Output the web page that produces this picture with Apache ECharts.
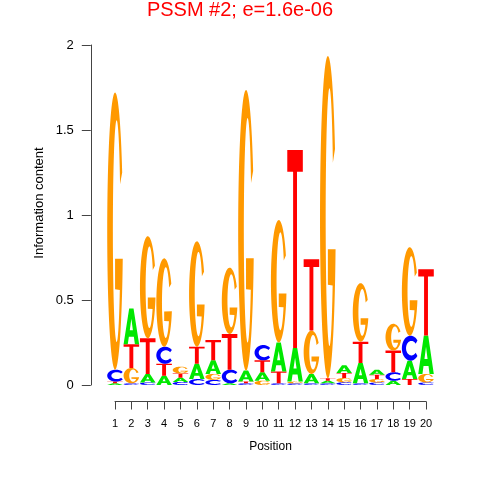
<!DOCTYPE html>
<html>
<head>
<meta charset="utf-8">
<title>PSSM #2 logo</title>
<script src="https://cdn.jsdelivr.net/npm/echarts@6/dist/echarts.min.js"></script>
<style>
  html, body { margin: 0; padding: 0; background: #fff; }
  #chart { width: 480px; height: 480px; }
</style>
</head>
<body>
<div id="chart"></div>
<script>
// information content (bits) of each base at positions 1..20
const positions = [1, 2, 3, 4, 5, 6, 7, 8, 9, 10, 11, 12, 13, 14, 15, 16, 17, 18, 19, 20]
const heightA = [0.01, 0.21, 0.05, 0.055, 0.024, 0.09, 0.08, 0.01, 0.065, 0.05, 0.17, 0.197, 0.055, 0.015, 0.045, 0.12, 0.03, 0.025, 0.108, 0.226]
const heightC = [0.07, 0.01, 0.015, 0.10, 0.018, 0.035, 0.03, 0.08, 0.01, 0.09, 0.01, 0.01, 0.01, 0.01, 0.016, 0.01, 0.015, 0.05, 0.147, 0.015]
const heightG = [1.63, 0.09, 0.60, 0.52, 0.04, 0.62, 0.035, 0.39, 1.65, 0.025, 0.72, 0.01, 0.255, 1.895, 0.025, 0.344, 0.02, 0.157, 0.52, 0.05]
const heightT = [0.01, 0.14, 0.21, 0.07, 0.026, 0.10, 0.12, 0.21, 0.01, 0.07, 0.07, 1.166, 0.42, 0.015, 0.03, 0.125, 0.025, 0.128, 0.035, 0.39]
const yTicks = [0, 0.5, 1, 1.5, 2]

const letters = ['A', 'C', 'G', 'T']
const colors = { A: '#00E800', C: '#0000FF', G: '#FF9900', T: '#FF0000' }

// glyph outlines in a 100x100 box, stretched over each letter's rect
function ellipsePts(cx, cy, rx, ry, from, to, step) {
  const pts = []
  const n = Math.max(2, Math.ceil(Math.abs(to - from) / step))
  for (let i = 0; i <= n; i++) {
    const a = (from + (to - from) * i / n) * Math.PI / 180
    pts.push([cx + rx * Math.cos(a), cy - ry * Math.sin(a)])
  }
  return pts
}
function toPath(rings) {
  return rings.map(r => 'M' + r.map(p => p[0].toFixed(2) + ' ' + p[1].toFixed(2)).join(' L') + ' Z').join(' ')
}
const glyphs = {
  A: toPath([
    [[0, 100], [36, 0], [64, 0], [100, 100], [73, 100], [66, 79], [34, 79], [27, 100]],
    [[60, 61], [50, 29], [40, 61]]
  ]),
  T: toPath([
    [[0, 0], [100, 0], [100, 11], [62.5, 11], [62.5, 100], [37.5, 100], [37.5, 11], [0, 11]]
  ]),
  C: toPath([
    ellipsePts(50, 50, 50, 50, 38, 322, 4).concat(ellipsePts(55, 50, 31, 29, 322, 38, 4))
  ]),
  G: toPath([
    ellipsePts(50, 50, 50, 50, 25, 348.5, 4)
      .concat([[50, 60], [50, 71]])
      .concat(ellipsePts(60, 50, 24, 40, 328, 25, 4))
  ])
}

const logoData = positions.map((p, i) => [p, heightA[i], heightC[i], heightG[i], heightT[i]])

function renderLogo(params, api) {
  const pos = api.value(0)
  const stack = letters.map((l, k) => ({ l, h: api.value(k + 1) }))
  stack.sort((a, b) => a.h - b.h)
  const colW = api.size([1, 0])[0]
  const w = colW * 0.95
  const children = []
  let base = 0
  stack.forEach(s => {
    const bottom = api.coord([pos, base])
    const top = api.coord([pos, base + s.h])
    base += s.h
    const h = bottom[1] - top[1]
    if (h < 0.3) return
    children.push({
      type: 'path',
      shape: {
        pathData: glyphs[s.l],
        layout: 'cover',
        x: bottom[0] - w / 2,
        y: top[1],
        width: w,
        height: h
      },
      style: { fill: colors[s.l] }
    })
  })
  return { type: 'group', children }
}

const chart = echarts.init(document.getElementById('chart'))
const font = 'Liberation Sans, Arial, sans-serif'

chart.setOption({
  animation: false,
  title: {
    text: 'PSSM #2; e=1.6e-06',
    left: 'center',
    top: -5,
    textStyle: { color: '#FF0000', fontSize: 20, fontWeight: 'normal', fontFamily: font }
  },
  graphic: [{
    type: 'text',
    x: 39,
    y: 203,
    rotation: Math.PI / 2,
    style: {
      text: 'Information content',
      fill: '#000',
      font: '13px ' + font,
      align: 'center',
      verticalAlign: 'middle',
      textAlign: 'center',
      textVerticalAlign: 'middle'
    }
  }],
  grid: [
    { left: 106.8, right: 45.8, top: 45, bottom: 95 },
    { left: 115, right: 54, top: 380, bottom: 78.5 }
  ],
  xAxis: [
    { gridIndex: 0, type: 'value', min: 0.5, max: 20.5, show: false },
    {
      gridIndex: 1,
      type: 'value',
      min: 1,
      max: 20,
      interval: 1,
      name: 'Position',
      nameLocation: 'middle',
      nameGap: 39,
      nameTextStyle: { color: '#000', fontSize: 12, fontFamily: font },
      axisLine: { lineStyle: { color: '#444', width: 1 } },
      axisTick: { length: 8, lineStyle: { color: '#444' } },
      axisLabel: { color: '#000', fontSize: 11, fontFamily: font, margin: 17 },
      splitLine: { show: false }
    }
  ],
  yAxis: [
    {
      gridIndex: 0,
      type: 'value',
      min: yTicks[0],
      max: yTicks[yTicks.length - 1],
      interval: 0.5,
      offset: 16,
      axisLine: { show: true, lineStyle: { color: '#444', width: 1 } },
      axisTick: { show: true, length: 9, lineStyle: { color: '#444' } },
      axisLabel: { color: '#000', fontSize: 13, fontFamily: font, margin: 17 },
      splitLine: { show: false }
    },
    { gridIndex: 1, type: 'value', show: false }
  ],
  series: [{
    type: 'custom',
    xAxisIndex: 0,
    yAxisIndex: 0,
    renderItem: renderLogo,
    encode: { x: 0, y: [1, 2, 3, 4] },
    data: logoData,
    clip: false
  }]
})
</script>
</body>
</html>
